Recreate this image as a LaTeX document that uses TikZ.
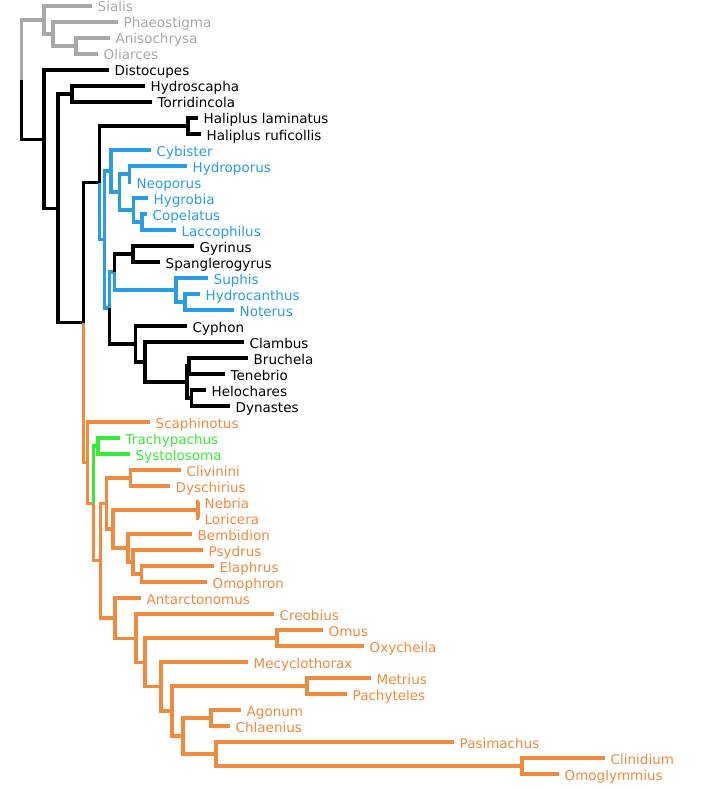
\documentclass[tikz,border=0pt]{standalone}
\usepackage{fontspec}
\setmainfont{DejaVu Sans}
\definecolor{tgray}{RGB}{168,168,168}
\definecolor{tblue}{RGB}{42,157,226}
\definecolor{torange}{RGB}{240,138,62}
\definecolor{tgreen}{RGB}{55,235,55}
% leaf: name, tip x, y, colour style, parent, label
\newcommand\leafat[6]{%
  \coordinate (#1) at (#2,#3);
  \draw[br,#4] (#5) |- (#1);
  \node[lab,#4] (#1-l) at ([xshift=5.5pt,yshift=-6pt]#1) {#6};}
% inner node: name, x, y, colour style, parent
\newcommand\innode[5]{%
  \coordinate (#1) at (#2,#3);
  \draw[br,#4] (#5) |- (#1);}
\begin{document}
\begin{tikzpicture}[x=1pt,y=-1pt,
  br/.style={line width=3.2pt},
  lab/.style={anchor=base west,inner sep=0pt,font=\fontsize{13.5}{16}\selectfont},
  cgy/.style={color=tgray},
  cbk/.style={color=black},
  cbl/.style={color=tblue},
  cor/.style={color=torange},
  cgn/.style={color=tgreen}]
\useasboundingbox (0,0) rectangle (722,789);
\coordinate (Root) at (21.3,79.59);
% outgroup
\innode{O1}{44}{20}{cgy}{Root}
\innode{O2}{53}{34}{cgy}{O1}
\innode{O3}{76}{46}{cgy}{O2}
\leafat{Sialis}{92}{6}{cgy}{O1}{Sialis}
\leafat{Phaeostigma}{118}{22}{cgy}{O2}{Phaeostigma}
\leafat{Anisochrysa}{110}{38}{cgy}{O3}{Anisochrysa}
\leafat{Oliarces}{98}{54}{cgy}{O3}{Oliarces}
% ingroup
\innode{I}{44}{139.18}{cbk}{Root}
\leafat{Distocupes}{109}{70}{cbk}{I}{Distocupes}
\innode{J}{58}{208.36}{cbk}{I}
\innode{K}{72}{94}{cbk}{J}
\leafat{Hydroscapha}{145}{86}{cbk}{K}{Hydroscapha}
\leafat{Torridincola}{152}{102}{cbk}{K}{Torridincola}
\innode{L}{83.5}{322.72}{cbk}{J}
\innode{P}{99.5}{182.75}{cbk}{L}
\innode{H}{188}{126}{cbk}{P}
\leafat{Hlam}{198}{118}{cbk}{H}{Haliplus laminatus}
\leafat{Hruf}{201}{134}{cbk}{H}{Haliplus ruficollis}
\innode{Q}{104.5}{239.5}{cbl}{P}
\innode{R}{111}{171}{cbl}{Q}
\leafat{Cybister}{151}{150}{cbl}{R}{Cybister}
\innode{V}{119.5}{192}{cbl}{R}
\innode{W}{129.5}{174}{cbl}{V}
\leafat{Hydroporus}{187}{166}{cbl}{W}{Hydroporus}
\leafat{Neoporus}{131}{182}{cbl}{W}{Neoporus}
\innode{X}{133.5}{210}{cbl}{V}
\leafat{Hygrobia}{148}{198}{cbl}{X}{Hygrobia}
\innode{Y}{142}{222}{cbl}{X}
\leafat{Copelatus}{147}{214}{cbl}{Y}{Copelatus}
\leafat{Laccophilus}{176}{230}{cbl}{Y}{Laccophilus}
\innode{S}{109.5}{308}{cbl}{Q}
\innode{T}{114.5}{272}{cbl}{S}
\innode{G}{133}{254}{cbk}{T}
\leafat{Gyrinus}{194}{246}{cbk}{G}{Gyrinus}
\leafat{Spanglerogyrus}{160}{262}{cbk}{G}{Spanglerogyrus}
\innode{N}{176}{290}{cbl}{T}
\leafat{Suphis}{208}{278}{cbl}{N}{Suphis}
\innode{N2}{185}{302}{cbl}{N}
\leafat{Hydrocanthus}{200}{294}{cbl}{N2}{Hydrocanthus}
\leafat{Noterus}{234}{310}{cbl}{N2}{Noterus}
\innode{U}{135.5}{344}{cbk}{S}
\leafat{Cyphon}{187}{326}{cbk}{U}{Cyphon}
\innode{U2}{145}{362}{cbk}{U}
\leafat{Clambus}{244}{342}{cbk}{U2}{Clambus}
\innode{U3}{187}{382}{cbk}{U2}
\innode{U4}{189}{366}{cbk}{U3}
\leafat{Bruchela}{248}{358}{cbk}{U4}{Bruchela}
\leafat{Tenebrio}{225}{374}{cbk}{U4}{Tenebrio}
\innode{U5}{191.5}{398}{cbk}{U3}
\leafat{Helochares}{206}{390}{cbk}{U5}{Helochares}
\leafat{Dynastes}{230}{406}{cbk}{U5}{Dynastes}
% Adephaga (orange / green)
\innode{M}{87.5}{462.7}{cor}{L}
\leafat{Scaphinotus}{150}{422}{cor}{M}{Scaphinotus}
\innode{M2}{93.5}{503.39}{cor}{M}
\innode{Tr}{98}{446}{cgn}{M2}
\leafat{Trachypachus}{120}{438}{cgn}{Tr}{Trachypachus}
\leafat{Systolosoma}{130}{454}{cgn}{Tr}{Systolosoma}
\innode{M3}{100.7}{560.78}{cor}{M2}
\innode{A}{106.7}{503.5}{cor}{M3}
\innode{C1}{130.5}{478}{cor}{A}
\leafat{Clivinini}{181}{470}{cor}{C1}{Clivinini}
\leafat{Dyschirius}{170}{486}{cor}{C1}{Dyschirius}
\innode{B2}{113}{529}{cor}{A}
\innode{NL}{198}{510}{cor}{B2}
\leafat{Nebria}{199}{502}{cor}{NL}{Nebria}
\leafat{Loricera}{199}{518}{cor}{NL}{Loricera}
\innode{C}{128}{548}{cor}{B2}
\leafat{Bembidion}{192}{534}{cor}{C}{Bembidion}
\innode{D}{133}{562}{cor}{C}
\leafat{Psydrus}{203}{550}{cor}{D}{Psydrus}
\innode{E}{141.5}{574}{cor}{D}
\leafat{Elaphrus}{214}{566}{cor}{E}{Elaphrus}
\leafat{Omophron}{207}{582}{cor}{E}{Omophron}
\innode{B}{115}{618.06}{cor}{M3}
\leafat{Antarctonomus}{141}{598}{cor}{B}{Antarctonomus}
\innode{Bp}{136}{638.125}{cor}{B}
\leafat{Creobius}{274}{614}{cor}{Bp}{Creobius}
\innode{B3}{145}{662.25}{cor}{Bp}
\innode{OO}{277}{638}{cor}{B3}
\leafat{Omus}{323}{630}{cor}{OO}{Omus}
\leafat{Oxycheila}{364}{646}{cor}{OO}{Oxycheila}
\innode{B4}{161}{686.5}{cor}{B3}
\leafat{Mecyclothorax}{248}{662}{cor}{B4}{Mecyclothorax}
\innode{B5}{172}{711}{cor}{B4}
\innode{MP}{307}{686}{cor}{B5}
\leafat{Metrius}{371}{678}{cor}{MP}{Metrius}
\leafat{Pachyteles}{347}{694}{cor}{MP}{Pachyteles}
\innode{B6}{183}{736}{cor}{B5}
\innode{AC}{211}{718}{cor}{B6}
\leafat{Agonum}{241}{710}{cor}{AC}{Agonum}
\leafat{Chlaenius}{230}{726}{cor}{AC}{Chlaenius}
\innode{B7}{216}{754}{cor}{B6}
\leafat{Pasimachus}{454}{742}{cor}{B7}{Pasimachus}
\innode{CO}{522}{766}{cor}{B7}
\leafat{Clinidium}{605}{758}{cor}{CO}{Clinidium}
\leafat{Omoglymmius}{559}{774}{cor}{CO}{Omoglymmius}
\end{tikzpicture}
\end{document}
